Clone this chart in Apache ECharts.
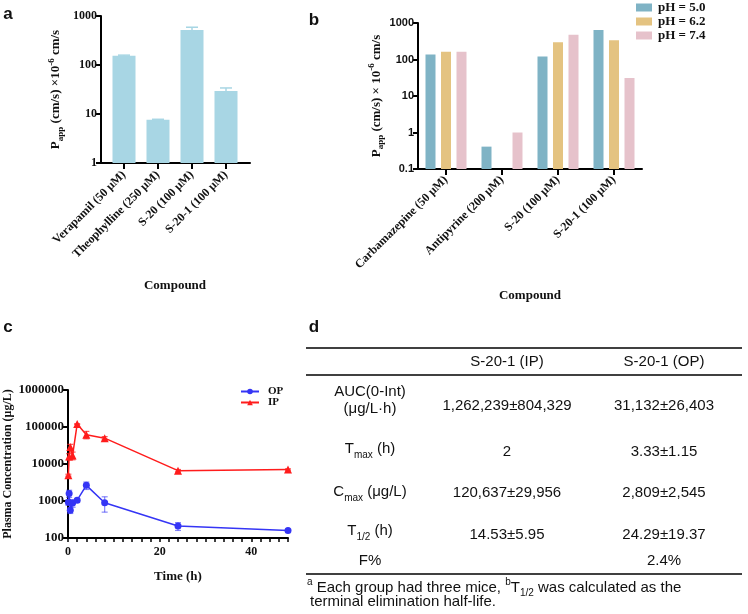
<!DOCTYPE html>
<html>
<head>
<meta charset="utf-8">
<script src="https://cdn.jsdelivr.net/npm/echarts@6.0.0/dist/echarts.min.js"></script>
<style>
  html, body { margin: 0; padding: 0; background: #fff; }
  #main { width: 748px; height: 614px; }
</style>
</head>
<body>
<div id="main"></div>
<script>
// panel a - Papp of reference compounds
var catsA = ['Verapamil (50 μM)', 'Theophylline (250 μM)', 'S-20 (100 μM)', 'S-20-1 (100 μM)'];
var pappA = [155, 7.6, 520, 29.5];
var errA = [4, 0.2, 70, 4.5];

// panel b - Papp at three pH values
var catsB = ['Carbamazepine (50 μM)', 'Antipyrine (200 μM)', 'S-20 (100 μM)', 'S-20-1 (100 μM)'];
var ph50 = [138, 0.41, 120, 640];
var ph62 = [162, null, 295, 335];
var ph74 = [162, 1.0, 478, 31];
var phNames = ['pH = 5.0', 'pH = 6.2', 'pH = 7.4'];

// panel c - plasma concentration (μg/L) vs time (h)
var timeC = [0.083, 0.25, 0.5, 1, 2, 4, 8, 24, 48];
var concOP = [920, 1600, 560, 880, 1050, 2650, 900, 210, 160];
var errOP = [150, 350, 100, 200, 120, 600, 400, 50, 12];
var concIP = [5000, 16000, 29000, 17000, 120000, 62000, 50000, 6600, 7100];
var errIP = [300, 3000, 5000, 4000, 3000, 14000, 5000, 500, 300];

// panel d - PK parameters table
var tableHead = ['S-20-1 (IP)', 'S-20-1 (OP)'];
var rowLabels = ['AUC(0-Int)\n(μg/L·h)', 'T{s|max} (h)', 'C{s|max} (μg/L)', 'T{s|1/2} (h)', 'F%'];
var ipVals = ['1,262,239±804,329', '2', '120,637±29,956', '14.53±5.95', ''];
var opVals = ['31,132±26,403', '3.33±1.15', '2,809±2,545', '24.29±19.37', '2.4%'];
var footnote = ['{p|a} Each group had three mice, {p|b}T{s|1/2} was calculated as the', 'terminal elimination half-life.'];

var serif = '"Liberation Serif", "Times New Roman", serif';
var sans = '"Liberation Sans", Arial, sans-serif';
var colA = '#a8d6e4';
var colB = ['#7fb3c5', '#e4c381', '#e6c2cb'];
var colOP = '#3535f5';
var colIP = '#ff1c1c';

function logLabel(v) {
    return v < 1 ? String(+v.toFixed(1)) : String(Math.round(v));
}

function errRender(cap, lw) {
    return function (params, api) {
        var x = api.value(0), y = api.value(1), e = api.value(2);
        var hi = api.coord([x, y + e]);
        var lo = api.coord([x, Math.max(y - e, y * 0.05)]);
        var st = { stroke: api.visual('color'), lineWidth: lw };
        return {
            type: 'group',
            children: [
                { type: 'line', shape: { x1: hi[0], y1: hi[1], x2: lo[0], y2: lo[1] }, style: st },
                { type: 'line', shape: { x1: hi[0] - cap, y1: hi[1], x2: hi[0] + cap, y2: hi[1] }, style: st },
                { type: 'line', shape: { x1: lo[0] - cap, y1: lo[1], x2: lo[0] + cap, y2: lo[1] }, style: st }
            ]
        };
    };
}

function barRender(offset) {
    return function (params, api) {
        var top = api.coord([api.value(0), api.value(1)]);
        var base = api.coord([api.value(0), 0.1]);
        return {
            type: 'rect',
            shape: { x: top[0] + offset - 5, y: top[1], width: 10, height: base[1] - top[1] },
            style: { fill: api.visual('color') }
        };
    };
}

function pairs(vals) {
    var out = [];
    vals.forEach(function (v, i) { if (v != null) out.push([i, v]); });
    return out;
}

var axisLine = { show: true, lineStyle: { color: '#000', width: 2 } };
var tick = { show: true, inside: false, length: 5, lineStyle: { color: '#000', width: 2 } };
var subRich = {
    m: { fontFamily: serif, fontWeight: 'bold', fontSize: 13, lineHeight: 18, color: '#111' },
    sub: { fontFamily: serif, fontWeight: 'bold', fontSize: 9, lineHeight: 9, verticalAlign: 'bottom', color: '#111' },
    sup: { fontFamily: serif, fontWeight: 'bold', fontSize: 9, lineHeight: 9, verticalAlign: 'top', color: '#111' }
};

// table graphics
var graphics = [];
function txt(x, y, text, font, align, lh) {
    graphics.push({
        type: 'text', x: x, y: y,
        style: {
            text: text, font: font || '15px ' + sans, fill: '#111',
            align: align || 'center', verticalAlign: 'middle',
            textAlign: align || 'center', textVerticalAlign: 'middle', lineHeight: lh || 17,
            rich: {
                s: { fontSize: 10, lineHeight: 8, verticalAlign: 'bottom', fontFamily: sans, fill: '#111' },
                p: { fontSize: 10, lineHeight: 8, verticalAlign: 'top', fontFamily: sans, fill: '#111' }
            }
        }
    });
}
function rule(y) {
    graphics.push({ type: 'line', shape: { x1: 306, y1: y, x2: 742, y2: y }, style: { stroke: '#000', lineWidth: 1.5 } });
}
txt(8, 14, 'a', 'bold 17px ' + sans);
txt(314, 20, 'b', 'bold 17px ' + sans);
txt(8, 327, 'c', 'bold 17px ' + sans);
txt(314, 327, 'd', 'bold 17px ' + sans);
rule(348); rule(375); rule(574);
txt(507, 362, tableHead[0]);
txt(664, 362, tableHead[1]);
var labelY = [400, 449, 492, 531, 561];
var valueY = [406, 452, 493, 535, 561];
rowLabels.forEach(function (l, i) {
    txt(370, labelY[i], l, null, null, i === 0 ? 17 : 23);
    txt(507, valueY[i], ipVals[i]);
    txt(664, valueY[i], opVals[i]);
});
txt(307, 588, footnote[0], null, 'left', 21);
txt(310, 602, footnote[1], null, 'left');

var option = {
    animation: false,
    backgroundColor: '#fff',
    graphic: graphics,
    legend: [{
        data: phNames,
        orient: 'vertical', left: 631, top: -4,
        icon: 'rect', itemWidth: 16, itemHeight: 8, itemGap: 1,
        textStyle: { fontFamily: serif, fontWeight: 'bold', fontSize: 13, lineHeight: 13, color: '#111', padding: [0, 0, 0, 1] }
    }, {
        data: ['OP', 'IP'],
        orient: 'vertical', left: 235, top: 381,
        itemWidth: 18, itemHeight: 7, itemGap: 0,
        textStyle: { fontFamily: serif, fontWeight: 'bold', fontSize: 11, lineHeight: 11, color: '#111', padding: [0, 0, 0, 4] }
    }],
    grid: [
        { left: 101, top: 16, width: 149, height: 147, outerBoundsMode: 'none' },
        { left: 107, top: 16, width: 136, height: 147, outerBoundsMode: 'none' },
        { left: 418, top: 23, width: 224, height: 146, outerBoundsMode: 'none' },
        { left: 68, top: 390, width: 220, height: 148, outerBoundsMode: 'none' }
    ],
    xAxis: [
        { gridIndex: 0, type: 'value', min: 0, max: 1, axisLine: axisLine, axisTick: { show: false }, axisLabel: { show: false }, splitLine: { show: false } },
        {
            gridIndex: 1, type: 'category', data: catsA,
            axisLine: { show: false }, axisTick: { show: true, alignWithLabel: true, length: 6, lineStyle: { color: '#000', width: 2 } },
            axisLabel: { rotate: 45, margin: 10, fontFamily: serif, fontWeight: 'bold', fontSize: 12, color: '#111' },
            name: 'Compound', nameLocation: 'middle', nameGap: 116,
            nameTextStyle: { fontFamily: serif, fontWeight: 'bold', fontSize: 13, color: '#111' }
        },
        {
            gridIndex: 2, type: 'category', data: catsB,
            axisLine: axisLine, axisTick: { show: true, alignWithLabel: true, length: 6, lineStyle: { color: '#000', width: 2 } },
            axisLabel: { rotate: 45, margin: 9, fontFamily: serif, fontWeight: 'bold', fontSize: 12, color: '#111' },
            name: 'Compound', nameLocation: 'middle', nameGap: 120,
            nameTextStyle: { fontFamily: serif, fontWeight: 'bold', fontSize: 13, color: '#111' }
        },
        {
            gridIndex: 3, type: 'value', min: 0, max: 48, interval: 2,
            axisLine: axisLine, axisTick: { show: true, length: 4, lineStyle: { color: '#000', width: 1.5 } },
            axisLabel: { margin: 8, fontFamily: serif, fontWeight: 'bold', fontSize: 12, color: '#111',
                formatter: function (v) { return v % 20 === 0 ? String(v) : ''; } },
            splitLine: { show: false },
            name: 'Time (h)', nameLocation: 'middle', nameGap: 32,
            nameTextStyle: { fontFamily: serif, fontWeight: 'bold', fontSize: 13, color: '#111' }
        }
    ],
    yAxis: [
        {
            gridIndex: 0, type: 'log', min: 1, max: 1000, splitNumber: 3,
            axisLine: axisLine, axisTick: tick, splitLine: { show: false },
            axisLabel: { margin: 4, fontFamily: serif, fontWeight: 'bold', fontSize: 12, color: '#111', formatter: logLabel },
            name: '{m|P}{sub|app}{m| (cm/s) ×10}{sup|-6}{m| cm/s}', nameLocation: 'middle', nameRotate: 90, nameGap: 36,
            nameTextStyle: { rich: subRich }
        },
        { gridIndex: 1, type: 'log', min: 1, max: 1000, show: false },
        {
            gridIndex: 2, type: 'log', min: 0.1, max: 1000, splitNumber: 4,
            axisLine: axisLine, axisTick: tick, splitLine: { show: false },
            axisLabel: { margin: 4, fontFamily: sans, fontWeight: 'bold', fontSize: 11, color: '#111', formatter: logLabel },
            name: '{m|P}{sub|app}{m| (cm/s) × 10}{sup|-6}{m| cm/s}', nameLocation: 'middle', nameRotate: 90, nameGap: 31,
            nameTextStyle: { rich: subRich }
        },
        {
            gridIndex: 3, type: 'log', min: 100, max: 1000000, splitNumber: 4,
            axisLine: axisLine, axisTick: tick, splitLine: { show: false },
            axisLabel: { margin: 4, fontFamily: serif, fontWeight: 'bold', fontSize: 13, color: '#111', formatter: logLabel },
            name: 'Plasma Concentration (μg/L)', nameLocation: 'middle', nameRotate: 90, nameGap: 54,
            nameTextStyle: { fontFamily: serif, fontWeight: 'bold', fontSize: 12, color: '#111' }
        }
    ],
    series: [
        { type: 'bar', xAxisIndex: 1, yAxisIndex: 1, data: pappA, barWidth: 23, itemStyle: { color: colA } },
        {
            type: 'custom', xAxisIndex: 1, yAxisIndex: 1, itemStyle: { color: colA }, z: 3,
            data: pappA.map(function (v, i) { return [i, v, errA[i]]; }),
            renderItem: errRender(6, 1.5)
        },
        { name: phNames[0], type: 'custom', xAxisIndex: 2, yAxisIndex: 2, itemStyle: { color: colB[0] }, data: pairs(ph50), renderItem: barRender(-15.5) },
        { name: phNames[1], type: 'custom', xAxisIndex: 2, yAxisIndex: 2, itemStyle: { color: colB[1] }, data: pairs(ph62), renderItem: barRender(0) },
        { name: phNames[2], type: 'custom', xAxisIndex: 2, yAxisIndex: 2, itemStyle: { color: colB[2] }, data: pairs(ph74), renderItem: barRender(15.5) },
        {
            name: 'OP', type: 'line', xAxisIndex: 3, yAxisIndex: 3, color: colOP,
            symbol: 'circle', symbolSize: 7, lineStyle: { width: 1.5 },
            data: timeC.map(function (t, i) { return [t, concOP[i]]; })
        },
        {
            name: 'IP', type: 'line', xAxisIndex: 3, yAxisIndex: 3, color: colIP,
            symbol: 'triangle', symbolSize: 8, lineStyle: { width: 1.5 },
            data: timeC.map(function (t, i) { return [t, concIP[i]]; })
        },
        {
            type: 'custom', xAxisIndex: 3, yAxisIndex: 3, itemStyle: { color: 'rgba(53,53,245,0.6)' }, z: 3,
            data: timeC.map(function (t, i) { return [t, concOP[i], errOP[i]]; }),
            renderItem: errRender(3, 1.2)
        },
        {
            type: 'custom', xAxisIndex: 3, yAxisIndex: 3, itemStyle: { color: 'rgba(255,28,28,0.75)' }, z: 3,
            data: timeC.map(function (t, i) { return [t, concIP[i], errIP[i]]; }),
            renderItem: errRender(3, 1.2)
        }
    ]
};

var myChart = echarts.init(document.getElementById('main'));
myChart.setOption(option);
</script>
</body>
</html>
